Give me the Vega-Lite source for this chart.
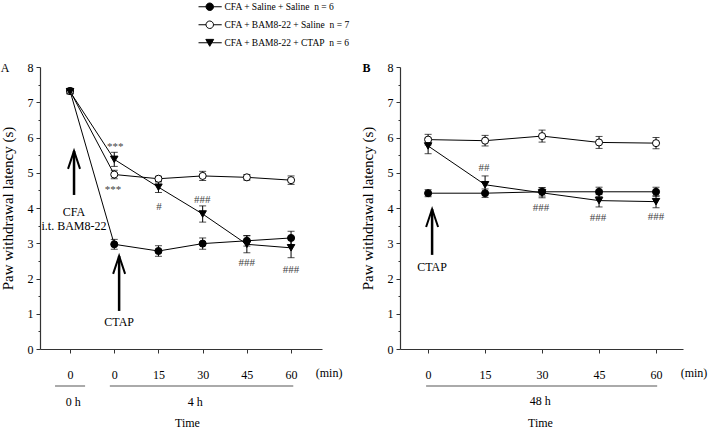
{
  "$schema": "https://vega.github.io/schema/vega-lite/v6.json",
  "padding": {"left": 0, "top": 2, "right": 0, "bottom": 0},
  "config": {
    "font": "Liberation Serif",
    "view": {"stroke": null},
    "axis": {"domainColor": "#333", "tickColor": "#333", "labelColor": "black", "labelFont": "Liberation Serif", "labelFontSize": 12, "titleFont": "Liberation Serif", "titleFontWeight": "normal", "titleColor": "black", "grid": false, "tickSize": 4, "domainWidth": 1.2, "tickWidth": 1}
  },
  "datasets": {
    "ptsA": [
      {"g": "CFA + Saline + Saline\u00a0\u00a0n = 6", "t": 0, "v": 7.32, "e": 0.07},
      {"g": "CFA + Saline + Saline\u00a0\u00a0n = 6", "t": 1, "v": 2.97, "e": 0.14},
      {"g": "CFA + Saline + Saline\u00a0\u00a0n = 6", "t": 2, "v": 2.78, "e": 0.15},
      {"g": "CFA + Saline + Saline\u00a0\u00a0n = 6", "t": 3, "v": 2.99, "e": 0.16},
      {"g": "CFA + Saline + Saline\u00a0\u00a0n = 6", "t": 4, "v": 3.07, "e": 0.15},
      {"g": "CFA + Saline + Saline\u00a0\u00a0n = 6", "t": 5, "v": 3.15, "e": 0.19},
      {"g": "CFA + BAM8-22 + Saline\u00a0\u00a0n = 7", "t": 0, "v": 7.32, "e": 0.07},
      {"g": "CFA + BAM8-22 + Saline\u00a0\u00a0n = 7", "t": 1, "v": 4.95, "e": 0.12},
      {"g": "CFA + BAM8-22 + Saline\u00a0\u00a0n = 7", "t": 2, "v": 4.83, "e": 0.07},
      {"g": "CFA + BAM8-22 + Saline\u00a0\u00a0n = 7", "t": 3, "v": 4.91, "e": 0.13},
      {"g": "CFA + BAM8-22 + Saline\u00a0\u00a0n = 7", "t": 4, "v": 4.87, "e": 0.08},
      {"g": "CFA + BAM8-22 + Saline\u00a0\u00a0n = 7", "t": 5, "v": 4.79, "e": 0.12},
      {"g": "CFA + BAM8-22 + CTAP\u00a0\u00a0n = 6", "t": 0, "v": 7.3, "e": 0.07},
      {"g": "CFA + BAM8-22 + CTAP\u00a0\u00a0n = 6", "t": 1, "v": 5.38, "e": 0.2},
      {"g": "CFA + BAM8-22 + CTAP\u00a0\u00a0n = 6", "t": 2, "v": 4.59, "e": 0.15},
      {"g": "CFA + BAM8-22 + CTAP\u00a0\u00a0n = 6", "t": 3, "v": 3.83, "e": 0.23},
      {"g": "CFA + BAM8-22 + CTAP\u00a0\u00a0n = 6", "t": 4, "v": 2.97, "e": 0.24},
      {"g": "CFA + BAM8-22 + CTAP\u00a0\u00a0n = 6", "t": 5, "v": 2.87, "e": 0.28}
    ],
    "ptsB": [
      {"g": "CFA + Saline + Saline\u00a0\u00a0n = 6", "t": 0, "v": 4.42, "e": 0.1},
      {"g": "CFA + Saline + Saline\u00a0\u00a0n = 6", "t": 15, "v": 4.42, "e": 0.12},
      {"g": "CFA + Saline + Saline\u00a0\u00a0n = 6", "t": 30, "v": 4.46, "e": 0.12},
      {"g": "CFA + Saline + Saline\u00a0\u00a0n = 6", "t": 45, "v": 4.46, "e": 0.13},
      {"g": "CFA + Saline + Saline\u00a0\u00a0n = 6", "t": 60, "v": 4.46, "e": 0.13},
      {"g": "CFA + BAM8-22 + Saline\u00a0\u00a0n = 7", "t": 0, "v": 5.94, "e": 0.15},
      {"g": "CFA + BAM8-22 + Saline\u00a0\u00a0n = 7", "t": 15, "v": 5.91, "e": 0.15},
      {"g": "CFA + BAM8-22 + Saline\u00a0\u00a0n = 7", "t": 30, "v": 6.04, "e": 0.17},
      {"g": "CFA + BAM8-22 + Saline\u00a0\u00a0n = 7", "t": 45, "v": 5.86, "e": 0.17},
      {"g": "CFA + BAM8-22 + Saline\u00a0\u00a0n = 7", "t": 60, "v": 5.84, "e": 0.16},
      {"g": "CFA + BAM8-22 + CTAP\u00a0\u00a0n = 6", "t": 0, "v": 5.76, "e": 0.22},
      {"g": "CFA + BAM8-22 + CTAP\u00a0\u00a0n = 6", "t": 15, "v": 4.66, "e": 0.25},
      {"g": "CFA + BAM8-22 + CTAP\u00a0\u00a0n = 6", "t": 30, "v": 4.43, "e": 0.14},
      {"g": "CFA + BAM8-22 + CTAP\u00a0\u00a0n = 6", "t": 45, "v": 4.21, "e": 0.18},
      {"g": "CFA + BAM8-22 + CTAP\u00a0\u00a0n = 6", "t": 60, "v": 4.18, "e": 0.17}
    ],
    "sigA": [
      {"t": 1.02, "v": 5.72, "label": "***"},
      {"t": 0.97, "v": 4.5, "label": "***"},
      {"t": 2.01, "v": 4.03, "label": "#"},
      {"t": 2.99, "v": 4.23, "label": "###"},
      {"t": 4.0, "v": 2.44, "label": "###"},
      {"t": 5.0, "v": 2.24, "label": "###"}
    ],
    "sigB": [
      {"t": 14.7, "v": 5.13, "label": "##"},
      {"t": 29.7, "v": 4.0, "label": "###"},
      {"t": 44.7, "v": 3.72, "label": "###"},
      {"t": 60, "v": 3.74, "label": "###"}
    ],
    "txtA": [
      {"t": 0.09, "v": 3.88, "label": "CFA"},
      {"t": 0.09, "v": 3.5, "label": "i.t. BAM8-22"},
      {"t": 1.11, "v": 0.76, "label": "CTAP"},
      {"t": 5.86, "v": -0.68, "label": "(min)"},
      {"t": 0.07, "v": -1.5, "label": "0 h"},
      {"t": 2.83, "v": -1.5, "label": "4 h"}
    ],
    "txtB": [
      {"t": 1.05, "v": 2.33, "label": "CTAP"},
      {"t": 70, "v": -0.68, "label": "(min)"},
      {"t": 29.5, "v": -1.48, "label": "48 h"}
    ],
    "arrA": [
      {"t": 0.09, "v": 5.62, "v2": 4.37},
      {"t": 1.11, "v": 2.64, "v2": 1.08}
    ],
    "arrB": [
      {"t": 1.05, "v": 3.97, "v2": 2.67}
    ],
    "grpA": [
      {"t": -0.34, "t2": 0.34, "v": -1.05},
      {"t": 0.9, "t2": 5.05, "v": -1.05}
    ],
    "grpB": [
      {"t": -0.53, "t2": 60.3, "v": -1.05}
    ],
    "panA": [{"t": -1.47, "v": 7.97, "label": "A"}],
    "panB": [{"t": -16.2, "v": 7.97, "label": "B"}]
  },
  "spacing": 17,
  "resolve": {"scale": {"x": "independent", "y": "independent"}, "axis": {"x": "independent", "y": "independent"}},
  "hconcat": [
    {
      "width": 282,
      "height": 282,
      "encoding": {
        "x": {"field": "t", "type": "quantitative", "scale": {"domain": [-0.68, 5.7], "nice": false, "zero": false},
          "axis": {"values": [0, 1, 2, 3, 4, 5], "labelExpr": "datum.value < 1 ? '0' : format((datum.value - 1) * 15, 'd')", "labelPadding": 16, "title": "Time", "titleFontSize": 12, "titleX": 147, "titleY": 73, "titleBaseline": "middle", "titleAnchor": "middle", "titleAlign": "center"}},
        "y": {"field": "v", "type": "quantitative", "scale": {"domain": [0, 8], "nice": false},
          "axis": {"values": [0, 0.5, 1, 1.5, 2, 2.5, 3, 3.5, 4, 4.5, 5, 5.5, 6, 6.5, 7, 7.5, 8], "labelExpr": "datum.value % 1 === 0 ? format(datum.value, 'd') : ''", "tickSize": {"condition": {"test": "datum.value % 1 === 0", "value": 4}, "value": 2}, "labelPadding": 3, "title": "Paw withdrawal latency (s)", "titleFontSize": 15, "titlePadding": 12}}
      },
      "layer": [
        {"data": {"name": "grpA"}, "mark": {"type": "rule", "color": "#aaa", "strokeWidth": 2}, "encoding": {"x2": {"field": "t2"}}},
        {"data": {"name": "ptsA"}, "mark": {"type": "line", "color": "black", "strokeWidth": 1}, "encoding": {"detail": {"field": "g"}}},
        {"data": {"name": "ptsA"}, "mark": {"type": "errorbar", "ticks": {"size": 7, "color": "black", "thickness": 1}, "rule": {"color": "black", "strokeWidth": 1}}, "encoding": {"yError": {"field": "e"}}},
        {"data": {"name": "ptsA"}, "mark": {"type": "point", "filled": true, "size": 56, "stroke": "black", "strokeWidth": 1, "opacity": 0},
          "encoding": {
            "shape": {"field": "g", "type": "nominal", "scale": {"domain": ["CFA + Saline + Saline\u00a0\u00a0n = 6", "CFA + BAM8-22 + Saline\u00a0\u00a0n = 7", "CFA + BAM8-22 + CTAP\u00a0\u00a0n = 6"], "range": ["M-1,0A1,1,0,1,1,1,0A1,1,0,1,1,-1,0Z M-3,0L-1,0 M1,0L3.2,0", "M-1,0A1,1,0,1,1,1,0A1,1,0,1,1,-1,0Z M-3,0L-1,0 M1,0L3.2,0", "M-1.05,-0.9L1.05,-0.9L0,0.95Z M-3,0L-0.5,0 M0.5,0L3.2,0"]},
              "legend": {"orient": "none", "legendX": 165, "legendY": -65, "title": null, "labelFontSize": 9.5, "labelFont": "Liberation Serif", "labelColor": "black", "labelOffset": 10, "rowPadding": 6, "symbolSize": 56, "symbolOpacity": 1, "symbolStrokeWidth": 1}},
            "fill": {"field": "g", "type": "nominal", "scale": {"domain": ["CFA + Saline + Saline\u00a0\u00a0n = 6", "CFA + BAM8-22 + Saline\u00a0\u00a0n = 7", "CFA + BAM8-22 + CTAP\u00a0\u00a0n = 6"], "range": ["black", "white", "black"]},
              "legend": {"orient": "none", "legendX": 165, "legendY": -65, "title": null, "labelFontSize": 9.5, "labelFont": "Liberation Serif", "labelColor": "black", "labelOffset": 10, "rowPadding": 6, "symbolSize": 56, "symbolOpacity": 1, "symbolStrokeWidth": 1}}
          }},
        {"data": {"name": "ptsA"}, "transform": [{"filter": "indexof(datum.g, 'Saline + Saline') >= 0"}], "mark": {"type": "point", "shape": "circle", "filled": true, "fill": "black", "size": 50, "stroke": "black", "strokeWidth": 1, "opacity": 1}},
        {"data": {"name": "ptsA"}, "transform": [{"filter": "indexof(datum.g, 'BAM8-22 + Saline') >= 0"}], "mark": {"type": "point", "shape": "circle", "filled": true, "fill": "white", "size": 50, "stroke": "black", "strokeWidth": 1, "opacity": 1}},
        {"data": {"name": "ptsA"}, "transform": [{"filter": "indexof(datum.g, 'CTAP') >= 0"}], "mark": {"type": "point", "shape": "triangle-down", "filled": true, "fill": "black", "size": 56, "stroke": "black", "strokeWidth": 1, "opacity": 1}},
        {"data": {"name": "sigA"}, "mark": {"type": "text", "fontSize": 11, "color": "#444", "baseline": "middle"}, "encoding": {"text": {"field": "label"}}},
        {"data": {"name": "txtA"}, "mark": {"type": "text", "fontSize": 12, "color": "black", "baseline": "middle"}, "encoding": {"text": {"field": "label"}}},
        {"data": {"name": "panA"}, "mark": {"type": "text", "fontSize": 12, "color": "black", "baseline": "middle"}, "encoding": {"text": {"field": "label"}}},
        {"data": {"name": "arrA"}, "mark": {"type": "rule", "color": "black", "strokeWidth": 2.5}, "encoding": {"y2": {"field": "v2"}}},
        {"data": {"name": "arrA"}, "mark": {"type": "point", "shape": "M-1,3L0,0L1,3", "size": 144, "filled": false, "stroke": "black", "strokeWidth": 2, "opacity": 1}}
      ]
    },
    {
      "width": 283,
      "height": 282,
      "encoding": {
        "x": {"field": "t", "type": "quantitative", "scale": {"domain": [-7.4, 67.1], "nice": false, "zero": false},
          "axis": {"values": [0, 15, 30, 45, 60], "labelPadding": 16, "title": "Time", "titleFontSize": 12, "titleX": 140, "titleY": 73, "titleBaseline": "middle", "titleAnchor": "middle", "titleAlign": "center"}},
        "y": {"field": "v", "type": "quantitative", "scale": {"domain": [0, 8], "nice": false},
          "axis": {"values": [0, 0.5, 1, 1.5, 2, 2.5, 3, 3.5, 4, 4.5, 5, 5.5, 6, 6.5, 7, 7.5, 8], "labelExpr": "datum.value % 1 === 0 ? format(datum.value, 'd') : ''", "tickSize": {"condition": {"test": "datum.value % 1 === 0", "value": 4}, "value": 2}, "labelPadding": 3, "title": "Paw withdrawal latency (s)", "titleFontSize": 15, "titlePadding": 12}}
      },
      "layer": [
        {"data": {"name": "grpB"}, "mark": {"type": "rule", "color": "#aaa", "strokeWidth": 2}, "encoding": {"x2": {"field": "t2"}}},
        {"data": {"name": "ptsB"}, "mark": {"type": "line", "color": "black", "strokeWidth": 1}, "encoding": {"detail": {"field": "g"}}},
        {"data": {"name": "ptsB"}, "mark": {"type": "errorbar", "ticks": {"size": 7, "color": "black", "thickness": 1}, "rule": {"color": "black", "strokeWidth": 1}}, "encoding": {"yError": {"field": "e"}}},
        {"data": {"name": "ptsB"}, "transform": [{"filter": "indexof(datum.g, 'Saline + Saline') >= 0"}], "mark": {"type": "point", "shape": "circle", "filled": true, "fill": "black", "size": 50, "stroke": "black", "strokeWidth": 1, "opacity": 1}},
        {"data": {"name": "ptsB"}, "transform": [{"filter": "indexof(datum.g, 'BAM8-22 + Saline') >= 0"}], "mark": {"type": "point", "shape": "circle", "filled": true, "fill": "white", "size": 50, "stroke": "black", "strokeWidth": 1, "opacity": 1}},
        {"data": {"name": "ptsB"}, "transform": [{"filter": "indexof(datum.g, 'CTAP') >= 0"}], "mark": {"type": "point", "shape": "triangle-down", "filled": true, "fill": "black", "size": 56, "stroke": "black", "strokeWidth": 1, "opacity": 1}},
        {"data": {"name": "sigB"}, "mark": {"type": "text", "fontSize": 11, "color": "#444", "baseline": "middle"}, "encoding": {"text": {"field": "label"}}},
        {"data": {"name": "txtB"}, "mark": {"type": "text", "fontSize": 12, "color": "black", "baseline": "middle"}, "encoding": {"text": {"field": "label"}}},
        {"data": {"name": "panB"}, "mark": {"type": "text", "fontSize": 12, "fontWeight": "bold", "color": "black", "baseline": "middle"}, "encoding": {"text": {"field": "label"}}},
        {"data": {"name": "arrB"}, "mark": {"type": "rule", "color": "black", "strokeWidth": 2.5}, "encoding": {"y2": {"field": "v2"}}},
        {"data": {"name": "arrB"}, "mark": {"type": "point", "shape": "M-1,3L0,0L1,3", "size": 144, "filled": false, "stroke": "black", "strokeWidth": 2, "opacity": 1}}
      ]
    }
  ]
}
